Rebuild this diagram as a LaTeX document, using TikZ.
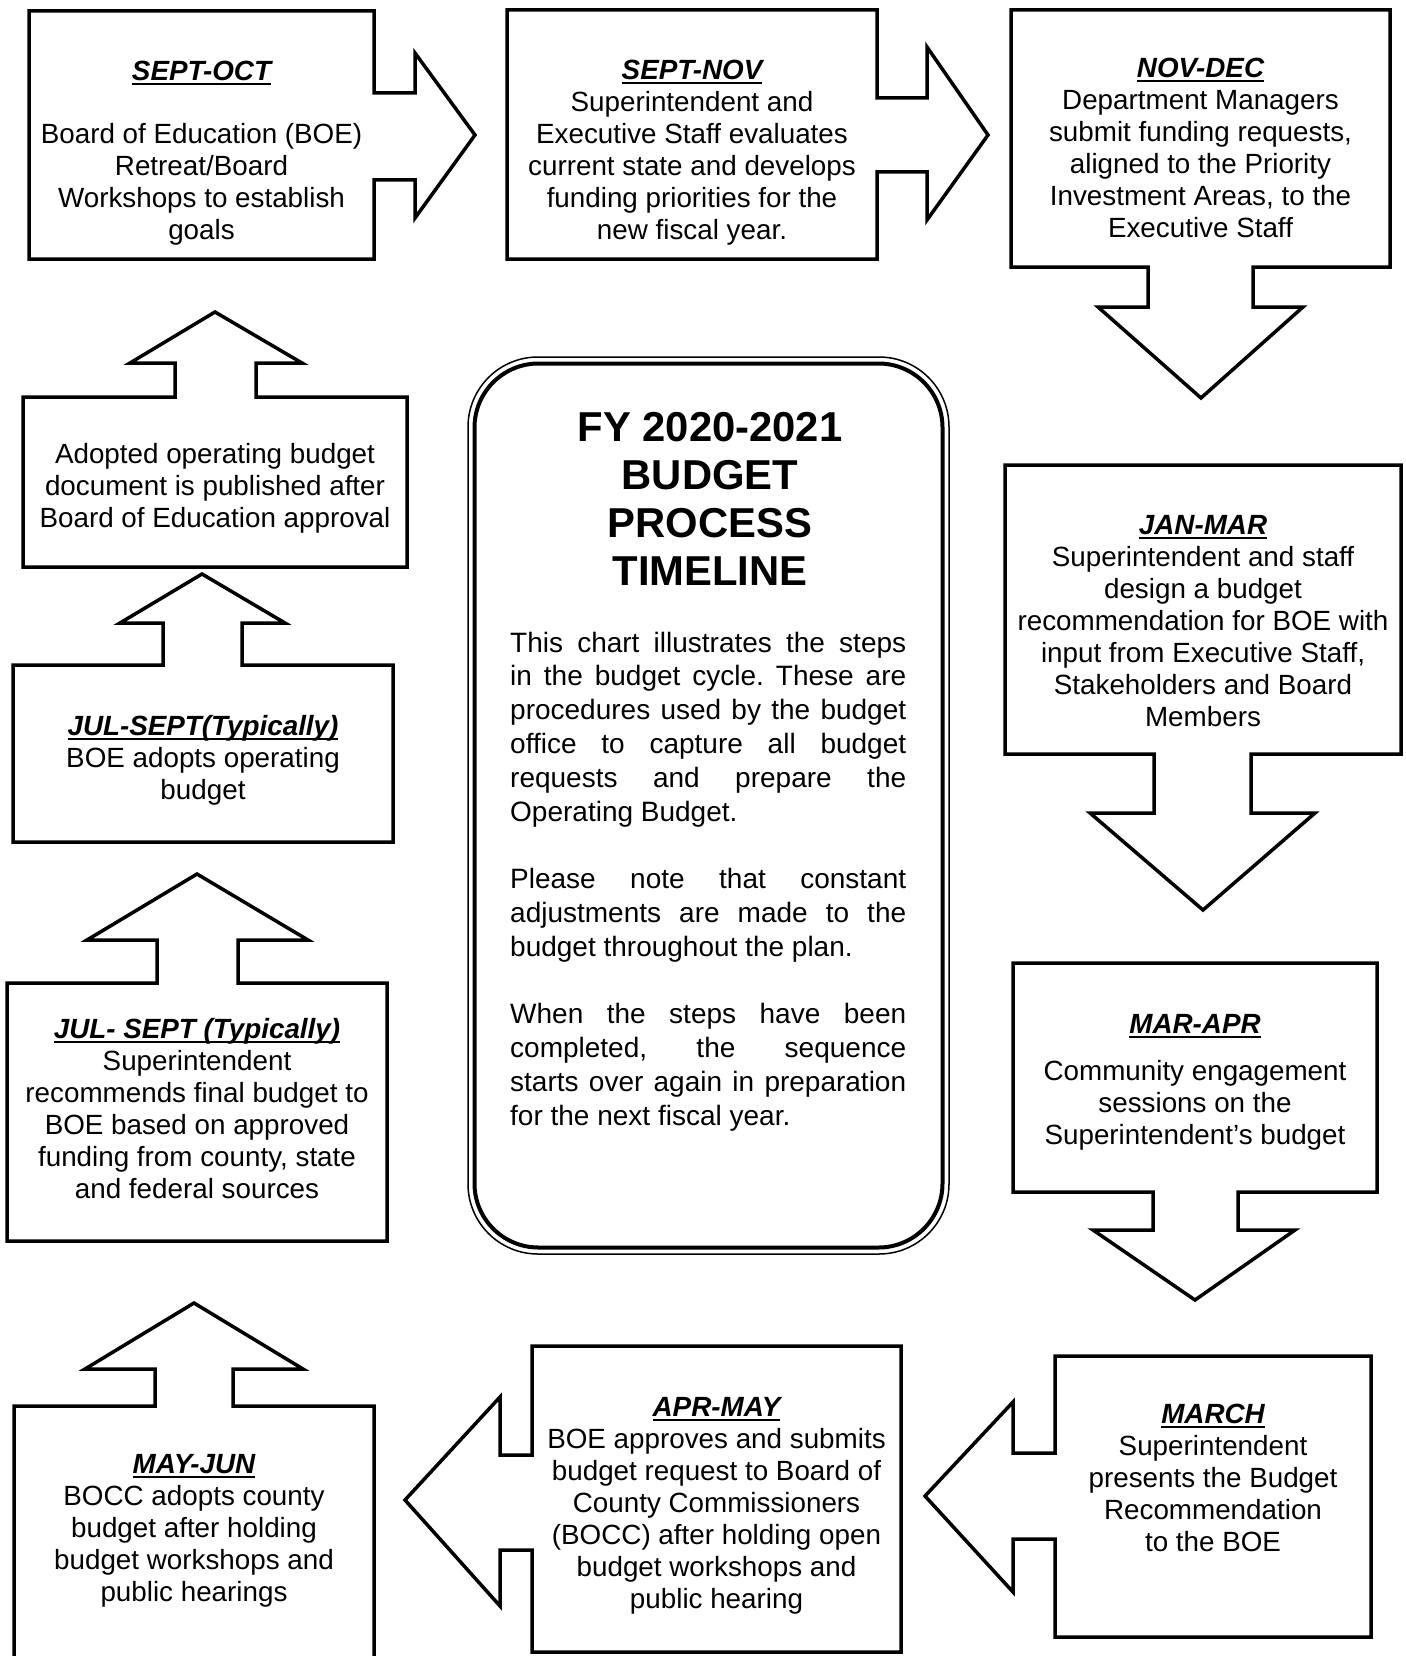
\documentclass[tikz,border=0pt]{standalone}
\usepackage{fontspec}
\setmainfont{Liberation Sans}
\frenchspacing
\newcommand\hdul[1]{\setbox0\hbox{#1}\rlap{\rule[-5pt]{\wd0}{2.2pt}}\box0}
\newcommand\hdg[1]{\hdul{\bfseries\itshape #1}}
\tikzset{
  shp/.style={draw=black, line width=3.5pt, fill=white, line join=miter},
  txt/.style={anchor=north, inner sep=0pt, align=center, font=\fontsize{27.8}{32}\selectfont},
}
\begin{document}
\begin{tikzpicture}[x=1pt,y=-1pt]
\useasboundingbox (0,0) rectangle (1405,1656);
\fill[white] (0,0) rectangle (1405,1656);
\begin{scope}
\clip (0,0) rectangle (1405,1656);
% Box 1 SEPT-OCT (arrow right)
\draw[shp] (29,11) -- (374,11) -- (374,93) -- (415,93) -- (415,53) -- (475,135) -- (415,218) -- (415,180) -- (374,180) -- (374,259) -- (29,259) -- cycle;
% Box 2 SEPT-NOV (arrow right)
\draw[shp] (507,10) -- (877,10) -- (877,98) -- (927,98) -- (927,47) -- (988,135) -- (927,220) -- (927,172) -- (877,172) -- (877,259) -- (507,259) -- cycle;
% Box 3 NOV-DEC (arrow down)
\draw[shp] (1011,10) -- (1390,10) -- (1390,267) -- (1253,267) -- (1253,307) -- (1303,307) -- (1201,398) -- (1098,307) -- (1148,307) -- (1148,267) -- (1011,267) -- cycle;
% Box 4 JAN-MAR (arrow down)
\draw[shp] (1005,465) -- (1401,465) -- (1401,754) -- (1251,754) -- (1251,813) -- (1315,813) -- (1203,910) -- (1090,813) -- (1154,813) -- (1154,754) -- (1005,754) -- cycle;
% Box 5 MAR-APR (arrow down)
\draw[shp] (1013,963) -- (1377,963) -- (1377,1192) -- (1238,1192) -- (1238,1230) -- (1295,1230) -- (1195,1300) -- (1093,1230) -- (1153,1230) -- (1153,1192) -- (1013,1192) -- cycle;
% Box 6 MARCH (arrow left)
\draw[shp] (1055,1356) -- (1371,1356) -- (1371,1637) -- (1055,1637) -- (1055,1539) -- (1013,1539) -- (1013,1592) -- (925,1496) -- (1013,1402) -- (1013,1453) -- (1055,1453) -- cycle;
% Box 7 APR-MAY (arrow left)
\draw[shp] (532,1652) -- (532,1550) -- (500,1550) -- (500,1606) -- (405,1500) -- (500,1397) -- (500,1455) -- (532,1455) -- (532,1346) -- (901,1346) -- (901,1652) -- cycle;
% Box 8 MAY-JUN (arrow up), cut at bottom
\draw[shp] (14,1670) -- (14,1406) -- (155,1406) -- (155,1369) -- (85,1369) -- (194,1303) -- (303,1369) -- (233,1369) -- (233,1406) -- (374,1406) -- (374,1670);
% Box 9 JUL- SEPT (arrow up)
\draw[shp] (7,983) -- (157,983) -- (157,940) -- (87,940) -- (197,874) -- (308,940) -- (238,940) -- (238,983) -- (387,983) -- (387,1241) -- (7,1241) -- cycle;
% Box 10 JUL-SEPT(Typically) (arrow up)
\draw[shp] (13,665) -- (163,665) -- (163,623) -- (120,623) -- (202,574) -- (285,623) -- (242,623) -- (242,665) -- (393,665) -- (393,842) -- (13,842) -- cycle;
% Box 11 Adopted (arrow up)
\draw[shp] (23,397) -- (175,397) -- (175,363) -- (130,363) -- (215,312) -- (302,363) -- (256,363) -- (256,397) -- (407,397) -- (407,567) -- (23,567) -- cycle;
% Central box
\draw[line width=1.5pt, rounded corners=70pt] (468,357) rectangle (949,1254);
\draw[line width=4pt, rounded corners=64pt] (474.5,363.5) rectangle (942.5,1247.5);
\end{scope}

\node[txt] (t1) at (201.5,57.6) {\strut\hdg{SEPT-OCT}\\[31pt]Board of Education (BOE)\\Retreat/Board\\Workshops to establish\\goals};
\node[txt] (t2) at (692,56.6) {\strut\hdg{SEPT-NOV}\\Superintendent and\\Executive Staff evaluates\\current state and develops\\funding priorities for the\\new fiscal year.};
\node[txt] (t3) at (1200.5,54.6) {\strut\hdg{NOV-DEC}\\Department Managers\\submit funding requests,\\aligned to the Priority\\Investment Areas, to the\\Executive Staff};
\node[txt] (t4) at (1203,511.6) {\strut\hdg{JAN-MAR}\\Superintendent and staff\\design a budget\\recommendation for BOE with\\input from Executive Staff,\\Stakeholders and Board\\Members};
\node[txt] (t5) at (1195,1010.6) {\strut\hdg{MAR-APR}\\[15pt]Community engagement\\sessions on the\\Superintendent’s budget};
\node[txt] (t6) at (1213,1400.6) {\strut\hdg{MARCH}\\Superintendent\\presents the Budget\\Recommendation\\to the BOE};
\node[txt] (t7) at (716.5,1393.6) {\strut\hdg{APR-MAY}\\BOE approves and submits\\budget request to Board of\\County Commissioners\\(BOCC) after holding open\\budget workshops and\\public hearing};
\node[txt] (t8) at (194,1450.6) {\strut\hdg{MAY-JUN}\\BOCC adopts county\\budget after holding\\budget workshops and\\public hearings};
\node[txt] (t9) at (197,1015.6) {\strut\hdg{JUL- SEPT (Typically)}\\Superintendent\\recommends final budget to\\BOE based on approved\\funding from county, state\\and federal sources};
\node[txt] (t10) at (203,712.6) {\strut\hdg{JUL-SEPT(Typically)}\\BOE adopts operating\\budget};
\node[txt] (t11) at (215,440.6) {\strut Adopted operating budget\\document is published after\\Board of Education approval};

\node[anchor=north, inner sep=0pt, align=center, font=\fontsize{41.8}{48}\selectfont\bfseries] (title) at (710,407.4) {\strut FY 2020-2021\\BUDGET\\PROCESS\\TIMELINE};
\node[anchor=north west, inner sep=0pt, text width=396pt, align=justify, font=\fontsize{28}{33.8}\selectfont] (body) at (510,628.3) {\setlength\parskip{33.8pt}\setlength\parindent{0pt}\strut This chart illustrates the steps\linebreak in the budget cycle. These are\linebreak procedures used by the budget\linebreak office to capture all budget\linebreak requests and prepare the\linebreak Operating Budget.\par
Please note that constant\linebreak adjustments are made to the\linebreak budget throughout the plan.\par
When the steps have been\linebreak completed, the sequence\linebreak starts over again in preparation\linebreak for the next fiscal year.\par};
\end{tikzpicture}
\end{document}
